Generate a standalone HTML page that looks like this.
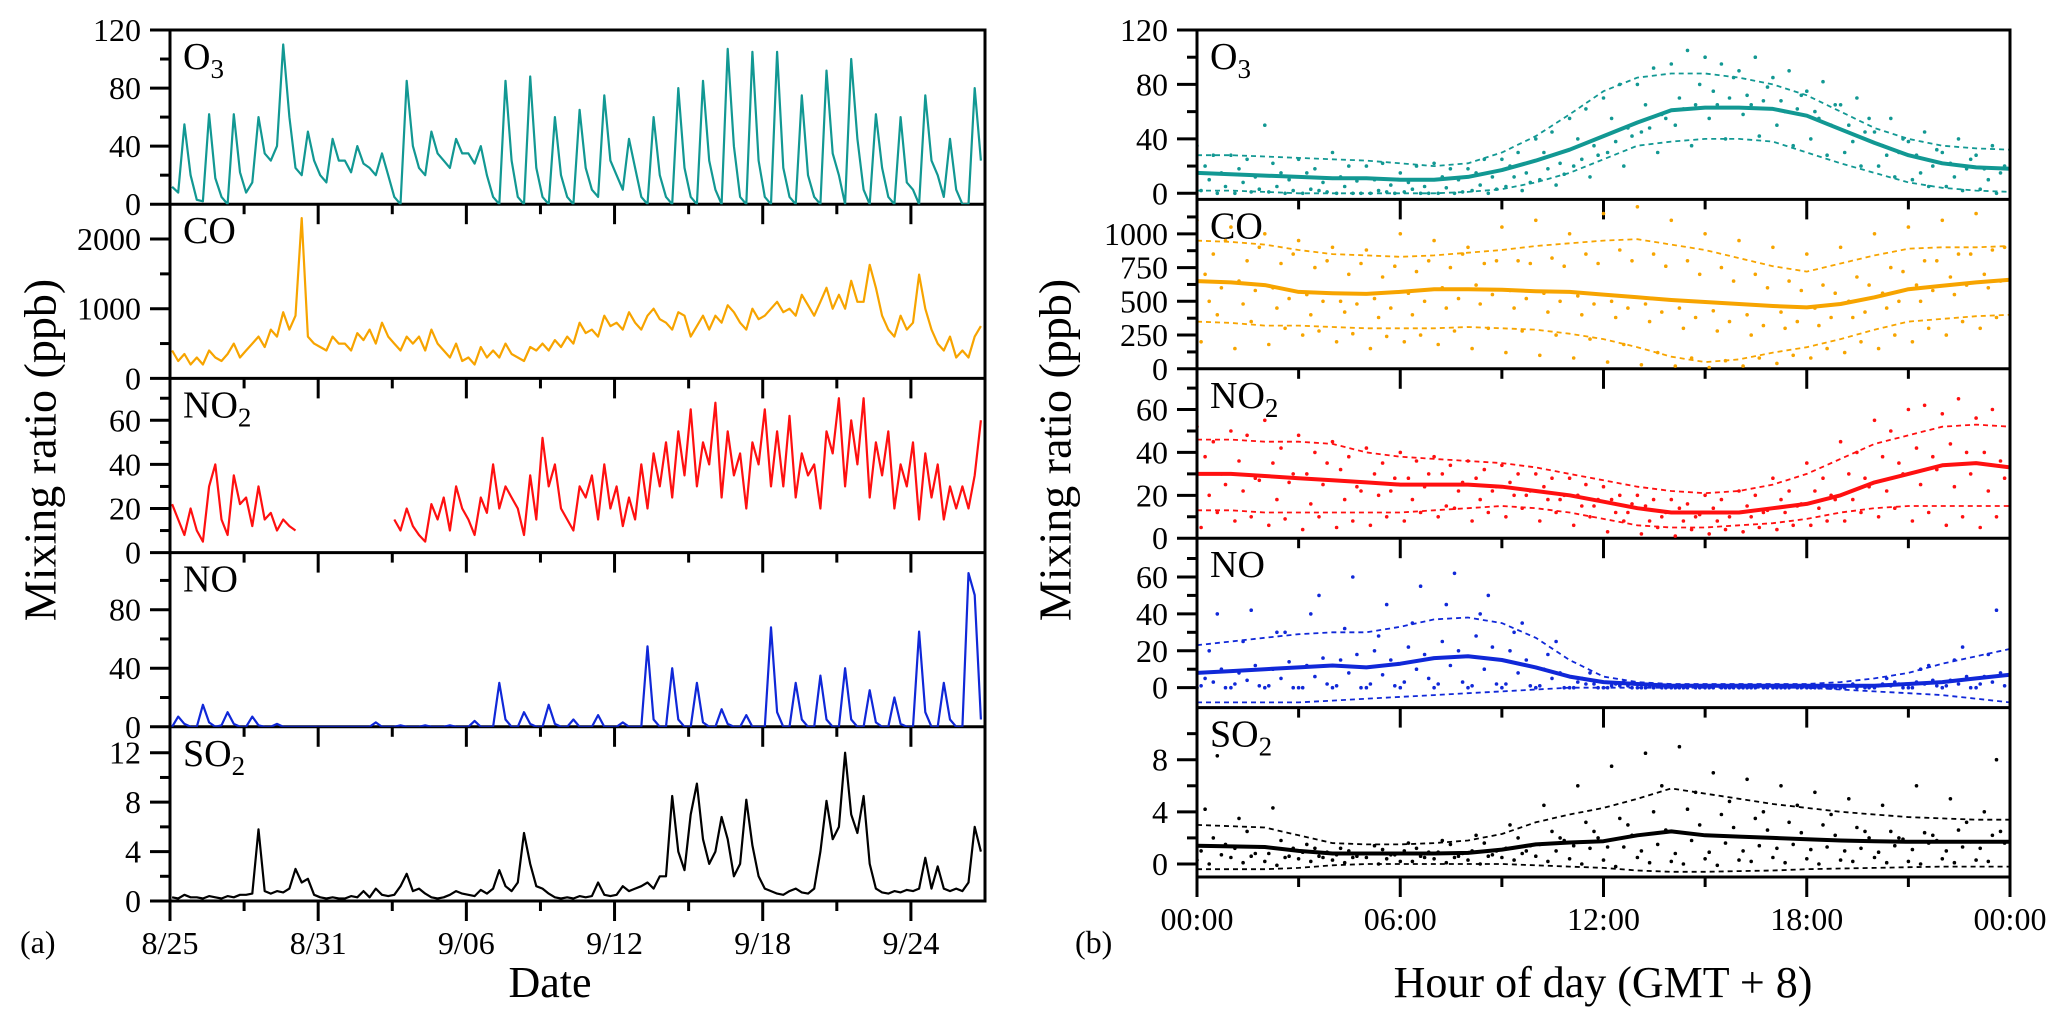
<!DOCTYPE html>
<html><head><meta charset="utf-8">
<style>
html,body{margin:0;padding:0;background:#fff;}
svg{display:block;font-family:"Liberation Serif",serif;}
</style></head>
<body>
<svg id="chart" width="2067" height="1019" viewBox="0 0 2067 1019" xmlns="http://www.w3.org/2000/svg">
<rect x="0" y="0" width="2067" height="1019" fill="#fff"/>
<g id="left"></g>
<g id="right"></g>
<text x="40" y="450" font-size="46" text-anchor="middle" transform="rotate(-90 40 450)" dominant-baseline="central">Mixing ratio (ppb)</text>
<text x="1055" y="450" font-size="46" text-anchor="middle" transform="rotate(-90 1055 450)" dominant-baseline="central">Mixing ratio (ppb)</text>
<text x="550" y="997" font-size="44" text-anchor="middle">Date</text>
<text x="1603" y="997" font-size="44" text-anchor="middle">Hour of day (GMT + 8)</text>
<text x="20" y="953" font-size="32">(a)</text>
<text x="1075" y="953" font-size="32">(b)</text>
</svg>
<script>
// ---------- LEFT: time series (4 values/day at 02,08,14,20 h; day 0 = 8/25) ----------
const leftHours = [2, 8, 14, 20];
const dateTickLabels = ["8/25", "8/31", "9/06", "9/12", "9/18", "9/24"];
const dateTickDays = [0, 6, 12, 18, 24, 30];
const o3Series = [12,8,55,20, 3,2,62,18, 5,0,62,22, 8,15,60,35, 30,40,110,60, 25,20,50,30, 20,15,45,30, 30,22,40,28, 25,20,35,20, 5,0,85,40,
 25,20,50,35, 30,25,45,35, 35,28,40,20, 5,0,85,30, 5,0,88,25, 5,0,60,20, 5,0,65,25, 10,5,75,30, 20,10,45,25, 5,0,60,20,
 5,0,80,25, 5,0,85,30, 10,0,107,40, 5,0,105,30, 5,0,105,25, 5,0,75,20, 5,0,92,35, 20,0,100,45, 10,0,62,25, 5,0,60,15,
 10,0,75,30, 20,5,45,10, 0,0,80,30];
const coSeries = [400,250,350,200, 300,200,400,300, 250,350,500,300, 400,500,600,450, 700,600,950,700, 900,2300,600,500, 450,400,600,500,
 500,400,650,550, 700,500,800,600, 500,400,600,500, 600,400,700,500, 400,300,500,250, 300,200,450,300, 400,300,500,350,
 300,250,450,400, 500,400,550,450, 600,500,800,650, 700,600,900,750, 800,700,950,800, 700,900,1000,850, 800,700,950,900,
 600,750,900,700, 900,800,1050,950, 800,700,1000,850, 900,1000,1100,950, 1000,900,1200,1050, 900,1100,1300,1000,
 1200,1000,1400,1100, 1100,1630,1300,900, 700,600,900,700, 800,1490,1000,700, 500,400,600,300, 400,300,600,750];
const no2Series = [22,15,8,20, 10,5,30,40, 15,8,35,22, 25,12,30,15, 18,10,15,12, 10,null,null,null, null,null,null,null, null,null,null,null,
 null,null,null,null, 15,10,20,12, 8,5,22,15, 25,10,30,20, 15,8,25,18, 40,20,30,25, 20,8,35,15, 52,30,40,20, 15,10,30,25,
 35,15,40,20, 30,12,25,15, 40,20,45,30, 50,25,55,35, 65,30,50,40, 68,25,55,35, 45,20,50,40, 65,30,55,30, 62,25,45,35,
 40,20,55,45, 70,30,60,40, 70,25,50,35, 55,20,40,30, 50,15,45,25, 40,15,30,20, 30,20,35,60];
const noSeries = [0,7,2,0, 0,15,3,0, 1,10,2,0, 0,7,1,0, 0,2,0,0, 0,0,0,0, 0,0,0,0, 0,0,0,0, 0,3,0,0, 0,1,0,0, 0,1,0,0, 0,1,0,0,
 0,4,0,0, 0,30,5,0, 0,10,2,0, 0,15,2,0, 0,5,0,0, 0,8,0,0, 0,3,0,0, 0,55,5,0, 0,40,5,0, 0,30,3,0, 0,12,2,0, 0,8,0,0,
 0,68,10,0, 0,30,5,0, 0,35,5,0, 0,40,5,0, 0,25,3,0, 0,20,2,0, 0,65,10,0, 0,30,5,0, 0,105,90,5];
const so2Series = [0.3,0.2,0.5,0.3, 0.3,0.2,0.4,0.3, 0.2,0.4,0.3,0.5, 0.5,0.6,5.8,0.8, 0.6,0.8,0.7,1.0, 2.6,1.5,1.8,0.5, 0.3,0.2,0.3,0.2,
 0.2,0.4,0.3,0.8, 0.3,1.0,0.5,0.4, 0.5,1.2,2.2,0.8, 1.0,0.6,0.3,0.2, 0.3,0.5,0.8,0.6, 0.5,0.4,0.9,0.6, 1.0,2.5,1.2,0.8,
 1.5,5.5,3.0,1.2, 1.0,0.6,0.3,0.2, 0.3,0.2,0.4,0.3, 0.4,1.5,0.5,0.4, 0.5,1.2,0.8,1.0, 1.2,1.5,1.0,2.0, 2.0,8.5,4.0,2.5,
 7.0,9.5,5.0,3.0, 4.0,6.8,5.0,2.0, 3.0,8.2,4.5,2.0, 1.0,0.8,0.6,0.5, 0.8,1.0,0.7,0.6, 1.0,4.0,8.1,5.0, 6.0,12.0,7.0,5.5,
 8.5,3.0,1.0,0.7, 0.6,0.8,0.7,0.9, 0.8,1.0,3.5,1.0, 2.8,1.0,0.8,1.0, 0.8,1.5,6.0,4.0];

// ---------- RIGHT: diurnal (hours 0..24) ----------
const hourTickLabels = ["00:00", "06:00", "12:00", "18:00", "00:00"];
const hourTickValues = [0, 6, 12, 18, 24];
const o3Mean = [15,14,13,12,11,11,10,10,12,17,24,32,42,52,61,63,63,62,57,47,37,28,22,19,18];
const o3Upper = [28,28,27,26,25,24,22,20,22,30,42,58,75,85,88,88,85,80,72,60,48,40,35,33,32];
const o3Lower = [2,2,1,0,0,0,0,0,1,3,8,15,25,35,38,40,40,38,30,22,15,8,4,2,1];
const o3Dots = [
 [35,28,50,25,30,20,15,22,18,25,40,55,70,80,95,100,90,85,75,65,45,38,30,28],
 [2,0,1,0,0,0,1,0,2,5,10,20,30,45,50,55,58,50,40,30,20,10,5,3],
 [20,18,22,15,12,10,8,12,15,20,30,40,55,65,70,75,72,68,60,50,35,28,22,18],
 [10,8,5,3,5,2,3,4,6,12,18,25,38,48,62,65,65,60,55,38,28,15,12,10],
 [28,25,15,18,20,22,20,18,25,30,45,62,80,92,105,95,100,90,82,70,55,45,40,35],
 [0,1,0,2,0,1,0,0,0,2,6,12,20,30,35,40,42,35,28,20,12,5,2,0],
 [15,12,10,8,9,6,5,10,12,15,22,35,48,58,65,70,68,62,50,45,30,20,18,15],
 [5,3,2,1,0,0,0,1,3,8,14,28,42,55,80,85,78,72,65,55,40,32,25,20]];
const coMean = [650,640,620,570,560,555,570,590,590,585,575,570,550,530,510,495,480,465,455,480,530,590,615,640,660];
const coUpper = [950,940,920,880,850,840,830,840,860,880,910,930,950,960,920,880,820,760,720,780,840,890,900,900,910];
const coLower = [350,340,320,320,310,300,300,300,310,300,290,260,220,160,90,50,70,120,160,220,290,350,370,390,400];
const coDots = [
 [1100,1050,1000,950,900,880,1000,950,900,1050,1100,1000,1150,1200,1100,1000,950,900,850,900,1000,1050,1100,1150],
 [200,150,180,250,200,150,200,180,150,120,100,80,50,30,20,10,20,40,80,120,150,200,250,300],
 [700,650,600,550,500,520,560,600,620,580,560,540,500,480,450,430,400,420,450,500,560,620,680,700],
 [500,480,450,400,420,380,400,450,480,450,420,400,380,350,300,280,250,300,320,380,450,500,550,600],
 [850,800,780,750,700,680,720,750,780,800,820,850,880,850,800,750,700,650,620,680,750,800,850,880],
 [400,350,300,280,260,240,250,280,300,280,250,220,180,120,80,60,80,100,150,200,250,300,350,380],
 [600,580,520,500,480,450,500,520,550,520,500,480,450,420,380,350,320,350,380,420,500,580,620,650],
 [950,900,850,800,780,760,800,850,800,780,760,780,800,760,700,650,600,580,560,620,720,800,850,900]];
const no2Mean = [30,30,29,28,27,26,25,25,25,24,22,20,17,14,12,12,12,14,16,20,26,30,34,35,33];
const no2Upper = [46,46,45,45,44,40,38,37,36,35,33,30,27,24,22,21,22,25,30,37,44,48,52,53,52];
const no2Lower = [13,13,12,12,12,12,12,13,14,15,14,12,9,6,5,5,6,7,9,12,14,15,15,15,15];
const no2Dots = [
 [52,50,55,48,45,42,40,38,36,34,30,28,24,20,18,20,22,28,35,45,55,60,58,56],
 [5,8,6,4,5,6,8,10,8,10,8,6,3,2,1,2,3,4,6,8,10,8,6,5],
 [38,36,35,30,32,30,28,30,28,26,24,20,18,15,14,14,15,18,22,30,38,42,44,40],
 [20,22,18,16,18,20,18,15,18,20,18,15,12,8,8,8,10,12,14,18,22,25,24,22],
 [45,48,42,40,38,35,36,34,32,30,28,25,20,18,16,18,20,22,28,40,50,62,65,60],
 [12,10,9,10,8,10,12,14,12,14,12,10,8,5,4,4,5,6,8,12,14,12,10,10],
 [30,28,26,25,24,22,24,22,22,20,18,15,12,10,10,10,12,15,20,28,35,38,40,36],
 [25,27,30,35,22,28,30,26,24,22,20,18,16,12,11,12,13,16,18,24,30,32,30,28]];
const noMean = [8,9,10,11,12,11,13,16,17,15,11,6,3,2,1,1,1,1,1,1,1,2,3,5,7];
const noUpper = [23,25,27,29,30,30,33,37,38,35,27,15,6,3,2,2,2,2,2,3,5,8,13,17,21];
const noLower = [-8,-8,-8,-8,-7,-6,-5,-4,-3,-2,-1,0,0,0,0,0,0,0,0,-1,-2,-3,-4,-6,-8];
const noDots = [
 [0,0,0,0,0,0,0,0,0,0,0,0,0,0,0,0,0,0,0,0,0,0,0,0],
 [1,2,1,0,1,2,3,2,1,2,1,0,0,0,0,0,0,0,0,0,1,0,1,2],
 [5,8,10,12,15,20,22,25,28,20,10,3,1,0,0,0,0,0,0,1,2,3,4,6],
 [20,25,30,40,32,28,35,45,40,30,18,5,2,1,0,1,0,0,0,2,5,10,15,18],
 [3,4,5,6,8,7,10,12,10,8,5,2,1,0,0,0,0,0,1,0,1,2,2,3],
 [40,42,30,50,60,45,55,62,50,35,25,8,3,1,1,0,1,1,0,1,3,12,22,42],
 [10,12,14,16,18,15,18,20,22,15,8,2,1,0,0,0,0,0,0,0,2,4,6,8],
 [0,1,0,2,0,1,5,3,2,1,0,0,0,0,0,0,0,0,0,0,0,1,0,1]];
const so2Mean = [1.4,1.35,1.3,1.0,0.8,0.8,0.8,0.8,0.85,1.1,1.5,1.65,1.75,2.2,2.5,2.2,2.1,2.0,1.9,1.8,1.75,1.7,1.7,1.7,1.7];
const so2Upper = [3.0,2.9,2.8,2.2,1.6,1.5,1.5,1.6,1.8,2.3,3.2,3.8,4.3,5.0,5.8,5.4,5.0,4.6,4.3,4.0,3.8,3.6,3.5,3.4,3.4];
const so2Lower = [-0.4,-0.4,-0.4,-0.3,-0.1,0,0,0,0,0,-0.1,-0.2,-0.3,-0.5,-0.6,-0.6,-0.55,-0.5,-0.4,-0.35,-0.3,-0.25,-0.2,-0.2,-0.2];
const so2Dots = [
 [0.3,0.5,0.2,0.4,0.3,0.5,0.2,0.4,0.3,0.5,0.6,0.4,0.3,0.5,0.2,0.4,0.3,0.5,0.4,0.3,0.5,0.2,0.4,0.3],
 [1.0,1.2,0.8,0.9,0.7,0.8,1.0,0.9,1.0,1.2,1.5,1.4,1.3,1.0,0.8,0.9,1.0,1.2,1.1,1.0,0.9,1.1,1.0,1.2],
 [4.2,3.5,4.3,1.5,1.2,1.4,1.6,1.8,2.2,3.0,4.5,6.0,7.5,8.5,9.0,7.0,6.5,6.0,5.5,5.0,4.5,6.0,5.0,4.0],
 [0,0.1,-0.1,0.2,0.1,0,0.2,0.1,0,0.3,0.2,0,-0.2,0.1,0,-0.1,0.2,0.1,0,0.2,0.1,0,0.1,0.2],
 [2.0,2.5,1.8,1.2,1.0,1.1,1.2,1.5,1.6,2.0,2.5,3.2,3.5,4.0,4.2,3.8,3.5,3.2,3.0,2.8,2.5,2.4,2.6,2.2],
 [8.3,0.6,0.5,0.6,0.5,0.4,0.6,0.5,0.6,0.8,1.0,1.2,1.3,1.5,1.8,1.6,1.4,1.5,1.3,1.2,1.4,1.6,1.3,8.0],
 [0.7,0.8,0.6,0.5,0.6,0.7,0.5,0.6,0.7,1.0,2.0,2.5,3.0,6.0,5.5,4.8,4.0,4.5,3.8,2.5,2.0,2.2,3.2,2.5],
 [1.5,1.3,1.2,0.9,0.8,0.7,0.9,0.8,1.0,1.4,1.8,2.0,2.2,2.6,3.0,2.8,2.6,2.4,2.2,2.0,1.9,1.8,1.7,1.6]];

const NS = "http://www.w3.org/2000/svg";
function mk(parent, tag, attrs) {
  const el = document.createElementNS(NS, tag);
  for (const k in attrs) el.setAttribute(k, attrs[k]);
  parent.appendChild(el);
  return el;
}
const LEFT = {x0: 170, x1: 985, tops: [30, 204.2, 378.4, 552.6, 726.8, 901], xmin: 0, xmax: 33};
const RIGHT = {x0: 1197, x1: 2010, tops: [30, 199.4, 368.8, 538.2, 707.6, 877], xmin: 0, xmax: 24};

const leftPanels = [
  {key: "o3", label: "O", sub: "3", color: "#129893", min: 0, max: 120, major: [0,40,80,120], minor: [20,60,100], data: o3Series},
  {key: "co", label: "CO", sub: "", color: "#f7a400", min: 0, max: 2500, major: [0,1000,2000], minor: [500,1500], data: coSeries},
  {key: "no2", label: "NO", sub: "2", color: "#ff1010", min: 0, max: 79, major: [0,20,40,60], minor: [10,30,50,70], data: no2Series},
  {key: "no", label: "NO", sub: "", color: "#1028d8", min: 0, max: 119, major: [0,40,80], minor: [20,60,100], data: noSeries},
  {key: "so2", label: "SO", sub: "2", color: "#000000", min: 0, max: 14.1, major: [0,4,8,12], minor: [2,6,10], data: so2Series}
];
const rightPanels = [
  {key: "o3", label: "O", sub: "3", color: "#129893", min: -4.5, max: 120, major: [0,40,80,120], minor: [20,60,100], mean: o3Mean, upper: o3Upper, lower: o3Lower, dots: o3Dots},
  {key: "co", label: "CO", sub: "", color: "#f7a400", min: 0, max: 1255, major: [0,250,500,750,1000], minor: [125,375,625,875,1125], mean: coMean, upper: coUpper, lower: coLower, dots: coDots},
  {key: "no2", label: "NO", sub: "2", color: "#ff1010", min: 0, max: 79, major: [0,20,40,60], minor: [10,30,50,70], mean: no2Mean, upper: no2Upper, lower: no2Lower, dots: no2Dots},
  {key: "no", label: "NO", sub: "", color: "#1028d8", min: -10.8, max: 81, major: [0,20,40,60], minor: [10,30,50,70], mean: noMean, upper: noUpper, lower: noLower, dots: noDots},
  {key: "so2", label: "SO", sub: "2", color: "#000000", min: -1, max: 12, major: [0,4,8], minor: [2,6,10], mean: so2Mean, upper: so2Upper, lower: so2Lower, dots: so2Dots}
];

function xScale(L, v) { return L.x0 + (v - L.xmin) / (L.xmax - L.xmin) * (L.x1 - L.x0); }
function yScale(p, top, bot, v) { return bot - (v - p.min) / (p.max - p.min) * (bot - top); }

function drawFrame(g, L, p, i, side) {
  const top = L.tops[i], bot = L.tops[i + 1];
  const cid = "clip-" + side + "-" + p.key;
  const cp = mk(g, "clipPath", {id: cid});
  
  
  const cr = mk(cp, "rect", {x: L.x0, y: top, width: L.x1 - L.x0, height: bot - top});
  
  
  p.major.forEach(v => {
    const y = yScale(p, top, bot, v);
    const t = mk(g, "line", {x1: L.x0 - 20, x2: L.x0, y1: y, y2: y, stroke: "#000", "stroke-width": 3});
    
    
    const tx = mk(g, "text", {x: L.x0 - 29, y: y, "font-size": 32, "text-anchor": "end", "dominant-baseline": "central"});
    tx.textContent = String(v);
    
    
  });
  p.minor.forEach(v => {
    const y = yScale(p, top, bot, v);
    const t = mk(g, "line", {x1: L.x0 - 10, x2: L.x0, y1: y, y2: y, stroke: "#000", "stroke-width": 3});
    
    
  });
  const bl = mk(g, "line", {x1: L.x0 - 1.5, x2: L.x1 + 1.5, y1: bot, y2: bot, stroke: "#000", "stroke-width": 3});
  
  
  const lt = mk(g, "text", {x: L.x0 + 13, y: top + 39, "font-size": 38});
  
  
  lt.appendChild(document.createTextNode(p.label));
  if (p.sub) {
    const ts = mk(lt, "tspan", {"font-size": 27, dy: 9});
    ts.textContent = p.sub;
    
    
  }
  return {top, bot, cid};
}

function drawXTicks(g, L, side, majorVals, minorVals, labels, showLabels, bot) {
  majorVals.forEach((v, k) => {
    const x = xScale(L, v);
    const t = mk(g, "line", {x1: x, x2: x, y1: bot, y2: bot + 20, stroke: "#000", "stroke-width": 3});
    
    
    if (showLabels) {
      const tx = mk(g, "text", {x: x, y: bot + 42, "font-size": 32, "text-anchor": "middle", "dominant-baseline": "central"});
      tx.textContent = labels[k];
      
      
    }
  });
  minorVals.forEach(v => {
    const x = xScale(L, v);
    const t = mk(g, "line", {x1: x, x2: x, y1: bot, y2: bot + 10, stroke: "#000", "stroke-width": 3});
    
    
  });
}

function pathFrom(xs, ys) {
  let d = "", pen = false;
  for (let i = 0; i < xs.length; i++) {
    if (ys[i] === null || ys[i] === undefined) { pen = false; continue; }
    d += (pen ? "L" : "M") + xs[i].toFixed(1) + "," + ys[i].toFixed(1);
    pen = true;
  }
  return d;
}

const gL = document.getElementById("left");
leftPanels.forEach((p, i) => {
  const g = mk(gL, "g", {});
  
  
  const f = drawFrame(g, LEFT, p, i, "left");
  const xs = p.data.map((v, k) => xScale(LEFT, Math.floor(k / 4) + leftHours[k % 4] / 24));
  const ys = p.data.map(v => v === null ? null : yScale(p, f.top, f.bot, v));
  const line = mk(g, "path", {d: pathFrom(xs, ys), fill: "none", stroke: p.color, "stroke-width": 2.2, "stroke-linejoin": "round", "clip-path": "url(#" + f.cid + ")"});
  
  
  drawXTicks(g, LEFT, "left", dateTickDays, [3, 9, 15, 21, 27], dateTickLabels, i === leftPanels.length - 1, f.bot);
});
{
  const L = LEFT;
  const tb = mk(gL, "line", {x1: L.x0 - 1.5, x2: L.x1 + 1.5, y1: L.tops[0], y2: L.tops[0], stroke: "#000", "stroke-width": 3});
  
  
  const la = mk(gL, "line", {x1: L.x0, x2: L.x0, y1: L.tops[0], y2: L.tops[5] + 20, stroke: "#000", "stroke-width": 3});
  
  
  const ra = mk(gL, "line", {x1: L.x1, x2: L.x1, y1: L.tops[0], y2: L.tops[5], stroke: "#000", "stroke-width": 3});
  
  
}

const gR = document.getElementById("right");
rightPanels.forEach((p, i) => {
  const g = mk(gR, "g", {});
  
  
  const f = drawFrame(g, RIGHT, p, i, "right");
  const gd = mk(g, "g", {"clip-path": "url(#" + f.cid + ")", fill: p.color});
  
  
  p.dots.forEach((row, r) => {
    row.forEach((v, h) => {
      const c = mk(gd, "circle", {cx: xScale(RIGHT, h + r * 0.12).toFixed(1), cy: yScale(p, f.top, f.bot, v).toFixed(1), r: 1.8});
      
      
    });
  });
  const hrs = p.mean.map((v, h) => xScale(RIGHT, h));
  [["upper", p.upper], ["lower", p.lower]].forEach(([nm, arr]) => {
    const dl = mk(g, "path", {d: pathFrom(hrs, arr.map(v => yScale(p, f.top, f.bot, v))), fill: "none", stroke: p.color, "stroke-width": 1.8, "stroke-dasharray": "5,4", "clip-path": "url(#" + f.cid + ")"});
    
    
  });
  const ml = mk(g, "path", {d: pathFrom(hrs, p.mean.map(v => yScale(p, f.top, f.bot, v))), fill: "none", stroke: p.color, "stroke-width": 4, "stroke-linejoin": "round", "clip-path": "url(#" + f.cid + ")"});
  
  
  drawXTicks(g, RIGHT, "right", hourTickValues, [3, 9, 15, 21], hourTickLabels, i === rightPanels.length - 1, f.bot);
});
{
  const L = RIGHT;
  const tb = mk(gR, "line", {x1: L.x0 - 1.5, x2: L.x1 + 1.5, y1: L.tops[0], y2: L.tops[0], stroke: "#000", "stroke-width": 3});
  
  
  const la = mk(gR, "line", {x1: L.x0, x2: L.x0, y1: L.tops[0], y2: L.tops[5] + 20, stroke: "#000", "stroke-width": 3});
  
  
  const ra = mk(gR, "line", {x1: L.x1, x2: L.x1, y1: L.tops[0], y2: L.tops[5] + 20, stroke: "#000", "stroke-width": 3});
  
  
}
</script>
</body></html>
